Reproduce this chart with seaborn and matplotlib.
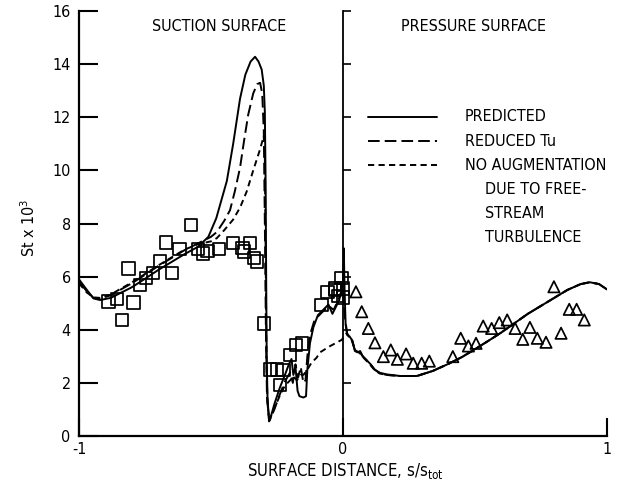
import matplotlib
matplotlib.use("Agg")
import matplotlib.pyplot as plt
import seaborn as sns

# Stanton number along the blade surface (suction side x<0, pressure side x>0)
pred_x = [-1.0, -0.97, -0.945, -0.92, -0.88, -0.85, -0.8, -0.75, -0.7, -0.65, -0.6, -0.55,
          -0.51, -0.48, -0.46, -0.44, -0.416, -0.39, -0.37, -0.35, -0.333, -0.32, -0.308,
          -0.3, -0.296, -0.293, -0.291, -0.289, -0.286, -0.282, -0.277, -0.26, -0.24, -0.22,
          -0.205, -0.195, -0.188, -0.18, -0.172, -0.165, -0.15, -0.14, -0.135, -0.125, -0.112,
          -0.095, -0.075, -0.055, -0.04, -0.03, -0.015, -0.005, 0.0, 0.003, 0.006, 0.01,
          0.016, 0.025, 0.035, 0.045, 0.055, 0.065, 0.075, 0.09, 0.105, 0.12, 0.14, 0.166,
          0.216, 0.28, 0.34, 0.4, 0.45, 0.5, 0.55, 0.6, 0.65, 0.7, 0.75, 0.8, 0.85, 0.9,
          0.935, 0.97, 1.0]
pred_y = [5.9, 5.5, 5.18, 5.12, 5.2, 5.35, 5.6, 5.92, 6.25, 6.55, 6.85, 7.12,
          7.5, 8.2, 8.9, 9.6, 11.0, 12.7, 13.6, 14.1, 14.28, 14.1, 13.8,
          13.2, 12.2, 9.5, 6.0, 3.0, 1.5, 0.8, 0.6, 1.2, 1.8, 2.3,
          2.7, 2.9, 2.3, 2.6, 1.7, 1.5, 1.45, 1.5, 2.5, 3.5, 4.1,
          4.55, 4.75, 4.95, 4.6, 4.8, 5.1, 5.5, 5.8, 7.07, 5.5, 4.2,
          3.8, 3.75, 3.6, 3.2, 3.15, 3.2, 3.0, 2.85, 2.7, 2.5, 2.38, 2.32,
          2.26, 2.26, 2.45, 2.72, 2.97, 3.27, 3.58, 3.9, 4.25, 4.6, 4.9, 5.2, 5.5, 5.72,
          5.79, 5.72, 5.52]

redtu_x = [-1.0, -0.97, -0.945, -0.92, -0.88, -0.85, -0.8, -0.75, -0.7, -0.65, -0.6, -0.55,
           -0.5, -0.478, -0.45, -0.428, -0.41, -0.39, -0.375, -0.359, -0.34, -0.325, -0.314,
           -0.306, -0.3, -0.296, -0.292, -0.288, -0.28, -0.26, -0.24, -0.22, -0.2, -0.19,
           -0.18, -0.17, -0.16, -0.15, -0.142, -0.135, -0.125, -0.11, -0.095, -0.075, -0.055,
           -0.035, -0.015, 0.0, 0.008, 0.016, 0.03, 0.045, 0.06, 0.075, 0.09, 0.105, 0.12,
           0.14, 0.166, 0.216, 0.28, 0.34, 0.4, 0.45, 0.5, 0.55, 0.6, 0.65, 0.7, 0.75, 0.8,
           0.85, 0.9, 0.935, 0.97, 1.0]
redtu_y = [5.8, 5.45, 5.2, 5.17, 5.3, 5.47, 5.75, 6.07, 6.4, 6.7, 7.0, 7.25,
           7.5, 7.68, 8.1, 8.5, 9.2, 10.1, 11.1, 12.1, 12.9, 13.25, 13.3,
           12.9, 11.5, 8.0, 4.0, 1.5, 0.55, 1.0, 1.55, 2.05, 2.4, 2.0,
           2.7, 2.2, 2.6, 2.0, 2.1, 3.0, 3.8, 4.3, 4.5, 4.7, 4.9,
           4.75, 5.2, 5.6, 4.4, 3.85, 3.7, 3.25, 3.2, 3.0, 2.85, 2.68, 2.5,
           2.36, 2.3, 2.26, 2.26, 2.45, 2.72, 2.97, 3.27, 3.58, 3.9, 4.25, 4.6, 4.9, 5.2,
           5.5, 5.72, 5.79, 5.72, 5.52]

noaug_x = [-1.0, -0.97, -0.945, -0.92, -0.88, -0.85, -0.8, -0.75, -0.7, -0.65, -0.6, -0.55,
           -0.5, -0.478, -0.45, -0.416, -0.39, -0.365, -0.34, -0.314, -0.3, -0.296, -0.293,
           -0.29, -0.286, -0.278, -0.26, -0.24, -0.22, -0.2, -0.188, -0.175, -0.16, -0.15,
           -0.135, -0.12, -0.1, -0.087, -0.05, -0.005, 0.014, 0.025, 0.035, 0.045, 0.06,
           0.075, 0.09, 0.105, 0.12, 0.14, 0.166, 0.216, 0.28, 0.34, 0.4, 0.45, 0.5, 0.55,
           0.6, 0.65, 0.7, 0.75, 0.8, 0.85, 0.9, 0.935, 0.97, 1.0]
noaug_y = [5.75, 5.4, 5.22, 5.2, 5.32, 5.5, 5.78, 6.1, 6.42, 6.72, 7.02, 7.22,
           7.33, 7.45, 7.75, 8.15, 8.6, 9.2, 10.0, 10.8, 11.3, 10.5, 7.0,
           3.0, 1.2, 0.6, 1.05, 1.5, 1.9, 2.1, 2.25, 2.1, 2.3, 2.3,
           2.5, 2.75, 2.95, 3.15, 3.38, 3.62, 3.87, 3.7, 3.6, 3.24, 3.15,
           2.98, 2.82, 2.66, 2.48, 2.35, 2.3, 2.26, 2.26, 2.45, 2.72, 2.97, 3.27, 3.58,
           3.9, 4.25, 4.6, 4.9, 5.2, 5.5, 5.72, 5.79, 5.72, 5.52]

# Measured values: suction surface (squares), pressure surface (triangles)
sq_x = [-0.889, -0.857, -0.838, -0.794, -0.813, -0.769, -0.746, -0.719, -0.693, -0.670,
        -0.647, -0.620, -0.576, -0.550, -0.531, -0.513, -0.469, -0.416, -0.381, -0.352,
        -0.375, -0.336, -0.325, -0.299, -0.277, -0.249, -0.226, -0.239, -0.201, -0.178,
        -0.156, -0.081, -0.059, -0.030, -0.005, -0.030, 0.000, -0.018, 0.000]
sq_y = [5.06, 5.16, 4.37, 5.03, 6.31, 5.69, 5.94, 6.13, 6.59, 7.29,
        6.13, 7.04, 7.94, 7.04, 6.88, 6.97, 7.04, 7.26, 7.09, 7.26,
        6.94, 6.70, 6.57, 4.24, 2.51, 2.51, 2.48, 1.92, 3.05, 3.43,
        3.49, 4.93, 5.43, 5.50, 5.94, 5.56, 5.56, 5.28, 5.22]

tri_x = [0.049, 0.071, 0.096, 0.121, 0.153, 0.181, 0.206, 0.239, 0.266, 0.298, 0.327,
         0.416, 0.446, 0.475, 0.504, 0.531, 0.563, 0.592, 0.622, 0.652, 0.681, 0.708,
         0.736, 0.769, 0.799, 0.826, 0.857, 0.885, 0.914]
tri_y = [5.43, 4.68, 4.05, 3.51, 2.99, 3.24, 2.89, 3.09, 2.74, 2.74, 2.82,
         2.99, 3.68, 3.39, 3.49, 4.14, 4.05, 4.27, 4.37, 4.05, 3.64, 4.09,
         3.68, 3.53, 5.62, 3.87, 4.77, 4.77, 4.37]

y_ticks = [0, 2, 4, 6, 8, 10, 12, 14, 16]
x_ticks = [-1, 0, 1]
x_tick_labels = ["-1", "0", "1"]

legend_labels = ["PREDICTED", "REDUCED Tu", "NO AUGMENTATION"]
legend_extra = ["DUE TO FREE-", "STREAM", "TURBULENCE"]

sns.set_style("ticks")
plt.rcParams["font.family"] = ["DejaVu Sans"]
plt.rcParams["font.stretch"] = "condensed"
plt.rcParams["font.size"] = 11.5
plt.rcParams["text.color"] = "black"
plt.rcParams["axes.labelcolor"] = "black"
plt.rcParams["xtick.color"] = "black"
plt.rcParams["ytick.color"] = "black"

fig = plt.figure(figsize=(6.19, 4.97), dpi=100)
ax = fig.add_axes([0.1276, 0.1227, 0.853, 0.855])

lw = 1.4
solid_ls = "-"
long_dash = (0, (6, 2.6))
short_dash = (0, (3.2, 2.2))

curves = [
    (noaug_x, noaug_y, short_dash),
    (redtu_x, redtu_y, long_dash),
    (pred_x, pred_y, solid_ls),
]
for cx, cy, ls in curves:
    sns.lineplot(x=cx, y=cy, ax=ax, color="black", lw=lw, linestyle=ls,
                 sort=False, estimator=None)

sns.scatterplot(x=sq_x, y=sq_y, ax=ax, marker="s", s=80, facecolor="none",
                edgecolor="black", linewidth=1.25, zorder=4)
sns.scatterplot(x=tri_x, y=tri_y, ax=ax, marker="^", s=66, facecolor="none",
                edgecolor="black", linewidth=1.25, zorder=4)

ax.set_xlim(-1, 1)
ax.set_ylim(0, 16)
ax.set_xticks(x_ticks)
ax.set_xticklabels(x_tick_labels)
ax.set_yticks(y_ticks)
ax.tick_params(axis="both", direction="in", width=1.5, colors="black")
ax.tick_params(axis="y", length=13.5, pad=6)
ax.tick_params(axis="x", length=13, pad=4)
for side in ["top", "right"]:
    ax.spines[side].set_visible(False)
for side in ["left", "bottom"]:
    ax.spines[side].set_linewidth(1.6)
    ax.spines[side].set_color("black")

# divider at the stagnation point with short outward ticks
ax2 = ax.twinx()
ax2.set_ylim(0, 16)
ax2.set_yticks(y_ticks[1:])
ax2.spines["right"].set_position(("data", 0))
ax2.spines["right"].set_linewidth(1.3)
ax2.spines["right"].set_color("black")
for side in ["left", "top", "bottom"]:
    ax2.spines[side].set_visible(False)
ax2.tick_params(axis="y", direction="out", length=6, width=1.2, labelright=False,
                colors="black")

ax.set_xlabel(r"SURFACE DISTANCE, s/s$\mathregular{_{tot}}$", fontsize=12)
ax.xaxis.set_label_coords(0.504, -0.058)
ax.set_ylabel(r"St x 10$\mathregular{^3}$")
ax.yaxis.set_label_coords(-0.078, 0.49)

ax.text(-0.468, 15.41, "SUCTION SURFACE", ha="center", va="center")
ax.text(0.494, 15.41, "PRESSURE SURFACE", ha="center", va="center")

# key
key_styles = [solid_ls, long_dash, short_dash]
key_y = [12.02, 11.1, 10.2]
for label, ls, yy in zip(legend_labels, key_styles, key_y):
    ax.plot([0.095, 0.356], [yy, yy], color="black", lw=lw, linestyle=ls)
    ax.text(0.462, yy, label, ha="left", va="center")
for label, yy in zip(legend_extra, [9.29, 8.38, 7.48]):
    ax.text(0.538, yy, label, ha="left", va="center")

fig.savefig("out.png", dpi=100)
